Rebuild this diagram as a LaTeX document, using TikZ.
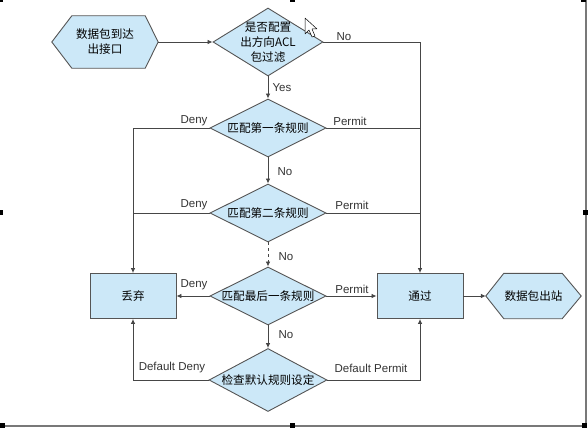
\documentclass[tikz,border=0pt]{standalone}
\usepackage{fontspec}
\setmainfont{Liberation Sans}
\newfontfamily\cjk{Noto Sans CJK SC}
\usetikzlibrary{arrows.meta,shapes.geometric,calc}
\definecolor{boxfill}{RGB}{204,232,248}
\definecolor{boxline}{RGB}{85,85,85}
\definecolor{wire}{RGB}{70,70,70}
\definecolor{framegray}{RGB}{120,120,120}
\tikzset{
  dia/.style={diamond, draw=boxline, fill=boxfill, line width=0.9pt, inner sep=0pt},
  rbox/.style={rectangle, draw=boxline, fill=boxfill, line width=0.9pt, minimum width=86, minimum height=45, inner sep=0pt},
  hexbox/.style={rectangle, inner sep=0pt},
  hexfill/.style={draw=boxline, fill=boxfill, line width=0.9pt},
  ctext/.style={font=\cjk\fontsize{11.6}{15}\selectfont, align=center, inner sep=0pt},
  lbl/.style={font=\fontsize{11.5}{13}\selectfont, text=black!80, inner sep=0pt},
  conn/.style={draw=wire, line width=0.8pt},
  arr/.style={conn, -{Latex[length=5pt,width=4.5pt]}},
  handle/.style={fill=black, draw=none},
}
\begin{document}
\begin{tikzpicture}[x=1pt,y=-1pt]
\useasboundingbox (0,0) rectangle (588,428);
% frame of the screenshot
\draw[framegray, line width=1.2pt] (586,0) -- (586,426) -- (0,426);
\foreach \hx/\hy in {0/0,292/0,583/0,0/212,585/212,2/425,292/425,584/425}
  \fill[handle] ($(\hx,\hy)+(-2,-2)$) rectangle ++(4.5,4.5);

% start hexagon
\node[hexbox, minimum width=106, minimum height=52] (s) at (105,42) {};
\draw[hexfill] (s.west) -- ($(s.north west)+(20,0)$) -- ($(s.north east)+(-13,0)$) -- (s.east)
  -- ($(s.south east)+(-13,0)$) -- ($(s.south west)+(20,0)$) -- cycle;
\node[ctext] (st) at (s) {数据包到达\\出接口};

% decisions
\node[dia, minimum width=110, minimum height=68] (q0) at (268,42) {};
\node[ctext] (q0t) at (q0) {是否配置\\出方向ACL\\包过滤};
\node[dia, minimum width=116, minimum height=58] (q1) at (268,128) {};
\node[ctext] (q1t) at (q1) {匹配第一条规则};
\node[dia, minimum width=116, minimum height=58] (q2) at (268,213) {};
\node[ctext] (q2t) at (q2) {匹配第二条规则};
\node[dia, minimum width=116, minimum height=58] (q3) at (268,296) {};
\node[ctext] (q3t) at (q3) {匹配最后一条规则};
\node[dia, minimum width=118, minimum height=63] (q4) at (268,380) {};
\node[ctext] (q4t) at (q4) {检查默认规则设定};

% boxes
\node[rbox] (drop) at (133,296) {};
\node[ctext] (dropt) at (drop) {丢弃};
\node[rbox] (pass) at (420,296) {};
\node[ctext] (passt) at (pass) {通过};

% end hexagon
\node[hexbox, minimum width=95, minimum height=45] (e) at (533.5,296) {};
\draw[hexfill] (e.west) -- ($(e.north west)+(18,0)$) -- ($(e.north east)+(-19,0)$) -- (e.east)
  -- ($(e.south east)+(-19,0)$) -- ($(e.south west)+(18,0)$) -- cycle;
\node[ctext] (et) at (e) {数据包出站};

% connectors
\draw[arr] (s.east) -- (q0.west);
\draw[arr] (q0.east) -| (pass.north);
\draw[arr] (q0.south) -- (q1.north);
\draw[arr] (q1.south) -- (q2.north);
\draw[arr, dashed] (q2.south) -- (q3.north);
\draw[arr] (q3.south) -- (q4.north);
\draw[arr] (q1.west) -| (drop.north);
\draw[conn] (q2.west) -- (q2.west -| drop.north);
\draw[conn] (q1.east) -- (q1.east -| pass.north);
\draw[conn] (q2.east) -- (q2.east -| pass.north);
\draw[arr] (q3.west) -- (drop.east);
\draw[arr] (q3.east) -- (pass.west);
\draw[arr] (q4.west) -| (drop.south);
\draw[arr] (q4.east) -| (pass.south);
\draw[arr] (pass.east) -- (e.west);

% labels
\node[lbl] (l0) at (344,37) {No};
\node[lbl] (l1) at (282,88) {Yes};
\node[lbl] (l2) at (194,121) {Deny};
\node[lbl] (l3) at (350,121) {Permit};
\node[lbl] (l4) at (285,172) {No};
\node[lbl] (l5) at (194,205) {Deny};
\node[lbl] (l6) at (352,205) {Permit};
\node[lbl] (l7) at (286,257) {No};
\node[lbl] (l8) at (194,285) {Deny};
\node[lbl] (l9) at (352,289) {Permit};
\node[lbl] (l10) at (286,335) {No};
\node[lbl] (l11) at (172,368) {Default Deny};
\node[lbl] (l12) at (371,368) {Default Permit};

% mouse cursor
\draw[fill=white, draw=black, line width=0.5pt, line join=round]
  (305,18) -- (305,34) -- (309,30) -- (312,37) -- (315,36) -- (312,29) -- (317,29) -- cycle;
\end{tikzpicture}
\end{document}
